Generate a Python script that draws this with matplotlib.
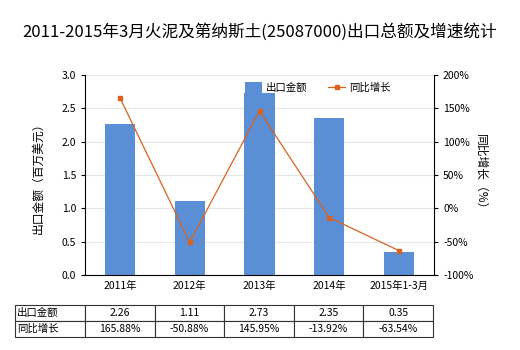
import matplotlib
matplotlib.use('Agg')
import matplotlib.pyplot as plt
from matplotlib.ticker import FuncFormatter

plt.rcParams['font.family'] = ['Noto Sans CJK SC', 'DejaVu Sans']

# data
cats = ['2011年', '2012年', '2013年', '2014年', '2015年1-3月']
amount = [2.26, 1.11, 2.73, 2.35, 0.35]
growth = [165.88, -50.88, 145.95, -13.92, -63.54]
amount_txt = ['2.26', '1.11', '2.73', '2.35', '0.35']
growth_txt = ['165.88%', '-50.88%', '145.95%', '-13.92%', '-63.54%']

bar_c = '#5b8fd5'
line_c = '#d9621e'

fig = plt.figure(figsize=(5.2, 3.5), dpi=100)
ax = fig.add_axes([85/520, 1-275/350, (434-85)/520, 200/350])
x = list(range(len(cats)))
ax.bar(x, amount, width=0.43, color=bar_c, label='出口金额', zorder=2)
ax.set_xlim(-0.5, len(cats)-0.5)
ax.set_ylim(0, 3.0)
ax.set_yticks([0, 0.5, 1.0, 1.5, 2.0, 2.5, 3.0])
ax.yaxis.set_major_formatter(FuncFormatter(lambda v, p: f'{v:.1f}'))
ax.set_xticks(x)
ax.set_xticklabels(cats, fontsize=7.5)
ax.tick_params(axis='y', labelsize=7.5, length=3)
ax.tick_params(axis='x', length=0, pad=4)
ax.grid(axis='y', color='#e4e8ea', linewidth=0.8, zorder=0)
for s in ['top', 'right']:
    ax.spines[s].set_visible(False)
ax.set_ylabel('出口金额（百万美元）', fontsize=8.5, labelpad=12)

ax2 = ax.twinx()
ax2.plot(x, growth, color=line_c, marker='s', markersize=3.5, linewidth=0.9, label='同比增长', zorder=3)
ax2.set_ylim(-100, 200)
ax2.set_yticks([-100, -50, 0, 50, 100, 150, 200])
ax2.yaxis.set_major_formatter(FuncFormatter(lambda v, p: f'{v:.0f}%'))
ax2.tick_params(axis='y', labelsize=7.5, length=3)
for s in ['top', 'left', 'bottom']:
    ax2.spines[s].set_visible(False)
ax2.set_ylabel('同比增长（%）', fontsize=8.5, rotation=270, labelpad=10)

h1, l1 = ax.get_legend_handles_labels()
h2, l2 = ax2.get_legend_handles_labels()
ax2.legend(h1 + h2, l1 + l2, loc='upper left', bbox_to_anchor=(245/520, 1-82/350),
           bbox_transform=fig.transFigure, ncol=2, frameon=False, fontsize=7.5,
           handlelength=1.6, handleheight=1.3, handletextpad=0.4,
           columnspacing=2.0, borderpad=0, borderaxespad=0)

fig.text(0.5, 1-32/350, '2011-2015年3月火泥及第纳斯土(25087000)出口总额及增速统计',
         ha='center', va='center', fontsize=12)

# bottom table
tax = fig.add_axes([15/520, 1-337/350, (433-15)/520, 32/350])
tax.axis('off')
cells = [['出口金额'] + amount_txt, ['同比增长'] + growth_txt]
tb = tax.table(cellText=cells, bbox=[0, 0, 1, 1], cellLoc='center',
               colWidths=[70] + [69.6]*5)
tb.auto_set_font_size(False)
for (r, c), cell in tb.get_celld().items():
    cell.set_fontsize(7.5)
    cell.set_linewidth(0.8)
    cell.set_edgecolor('#333333')
    if c == 0:
        cell.set_text_props(ha='left')
        cell.PAD = 0.03

fig.savefig('out.png', dpi=100)
